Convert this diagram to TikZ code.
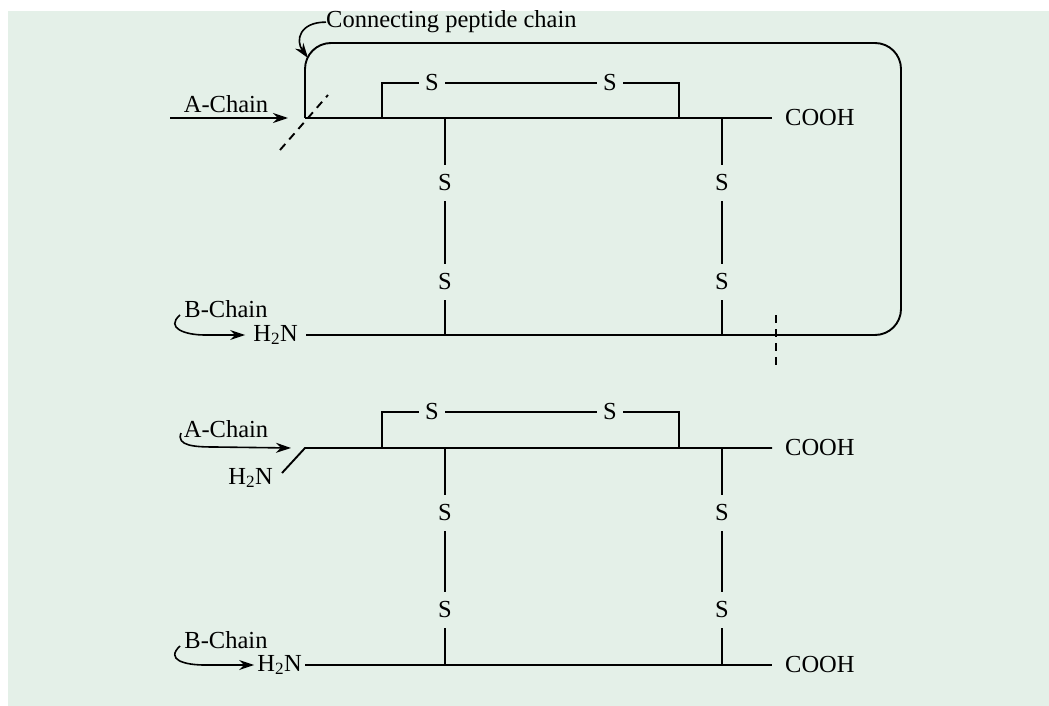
\documentclass[tikz,border=0pt]{standalone}
\usepackage{fontspec}
\setmainfont{Liberation Serif}
\usepackage{tikz}
\usetikzlibrary{arrows.meta,positioning}
\definecolor{paper}{RGB}{228,240,232}

\tikzset{
  lbl/.style={inner sep=0pt},
  sulfur/.style={inner xsep=6pt, inner ysep=10pt},
  chain/.style={line width=1.9pt},
  cutmark/.style={line width=1.9pt, dash pattern=on 8pt off 6pt},
  pointer/.style={line width=1.6pt, -{Stealth[length=15pt,width=10pt]}},
}

\begin{document}
\begin{tikzpicture}[x=1pt, y=-1pt, font=\fontsize{24.5}{28}\selectfont]

  % background panel
  \useasboundingbox (0,0) rectangle (1049,706);
  \fill[paper] (8,11) rectangle (1049,706);

  % ---------- upper picture ----------
  % A-chain backbone
  \coordinate (a1L) at (305,118);
  \coordinate (a1R) at (772,118);
  \draw[chain] (a1L) -- (a1R);
  \node[lbl, right=13pt of a1R] (cooh1) {COOH};

  % A-chain label and arrow
  \node[lbl] (achain1) at (226,104) {A-Chain};
  \coordinate (a1in) at (170,118);
  \coordinate (a1tip) at (288,118);
  \draw[pointer] (a1in) -- (a1tip);

  % S-S bridge inside A-chain
  \coordinate (br1L) at (382,118);
  \coordinate (br1R) at (679,118);
  \node[sulfur] (s1a) at (432,83) {S};
  \node[sulfur] (s1b) at (610,83) {S};
  \draw[chain] (br1L) |- (s1a) -- (s1b) -| (br1R);

  % B-chain running into the connecting peptide
  \node[lbl, inner xsep=8pt, anchor=east] (h2n1) at (306,335) {H\textsubscript{2}N};
  \draw[chain, rounded corners=26pt] (h2n1) -- (901,335) -- (901,43) -- (305,43) -- (a1L);

  % cut marks
  \draw[cutmark] (280,150) -- (328,95);
  \draw[cutmark] (776,315) -- (776,365);

  % B-chain label and arrow
  \node[lbl] (bchain1) at (226,309) {B-Chain};
  \coordinate (b1in) at (180,315);
  \draw[pointer] (b1in) .. controls (165,328) and (185,335) .. (205,335) -- (h2n1.west);

  % S-S links between the chains
  \coordinate (l1a) at (445,118);
  \coordinate (l1b) at (445,335);
  \node[sulfur] (s1c) at (445,183) {S};
  \node[sulfur] (s1d) at (445,282) {S};
  \draw[chain] (l1a) -- (s1c) -- (s1d) -- (l1b);

  \coordinate (l1c) at (722,118);
  \coordinate (l1d) at (722,335);
  \node[sulfur] (s1e) at (722,183) {S};
  \node[sulfur] (s1f) at (722,282) {S};
  \draw[chain] (l1c) -- (s1e) -- (s1f) -- (l1d);

  % connecting peptide label
  \node[lbl, anchor=base west] (conn) at (326,28) {Connecting peptide chain};
  \coordinate (corner1) at (308,58);
  \draw[pointer] (conn.west) .. controls (300,22) and (295,40) .. (corner1);

  % ---------- lower picture ----------
  % A-chain backbone
  \coordinate (a2L) at (305,448);
  \coordinate (a2R) at (772,448);
  \coordinate (a2K) at (282,473);
  \draw[chain] (a2K) -- (a2L) -- (a2R);
  \node[lbl, right=13pt of a2R] (cooh2) {COOH};
  \node[lbl, anchor=base east] (h2n2) at (273,484) {H\textsubscript{2}N};

  % A-chain label and arrow
  \node[lbl] (achain2) at (226,429) {A-Chain};
  \coordinate (a2in) at (181,433);
  \coordinate (a2tip) at (291,448);
  \draw[pointer] (a2in) .. controls (176,446) and (195,447) .. (215,447) -- (a2tip);

  % S-S bridge inside A-chain
  \coordinate (br2L) at (382,448);
  \coordinate (br2R) at (679,448);
  \node[sulfur] (s2a) at (432,412) {S};
  \node[sulfur] (s2b) at (610,412) {S};
  \draw[chain] (br2L) |- (s2a) -- (s2b) -| (br2R);

  % B-chain backbone
  \node[lbl, inner xsep=3pt, anchor=east] (h2n3) at (305,665) {H\textsubscript{2}N};
  \coordinate (b2R) at (772,665);
  \draw[chain] (h2n3) -- (b2R);
  \node[lbl, right=13pt of b2R] (cooh3) {COOH};

  % B-chain label and arrow
  \node[lbl] (bchain2) at (226,640) {B-Chain};
  \coordinate (b2in) at (180,646);
  \draw[pointer] (b2in) .. controls (165,660) and (185,665) .. (205,665) -- (h2n3.west);

  % S-S links between the chains
  \coordinate (l2a) at (445,448);
  \coordinate (l2b) at (445,665);
  \node[sulfur] (s2c) at (445,513) {S};
  \node[sulfur] (s2d) at (445,610) {S};
  \draw[chain] (l2a) -- (s2c) -- (s2d) -- (l2b);

  \coordinate (l2c) at (722,448);
  \coordinate (l2d) at (722,665);
  \node[sulfur] (s2e) at (722,513) {S};
  \node[sulfur] (s2f) at (722,610) {S};
  \draw[chain] (l2c) -- (s2e) -- (s2f) -- (l2d);

\end{tikzpicture}
\end{document}
